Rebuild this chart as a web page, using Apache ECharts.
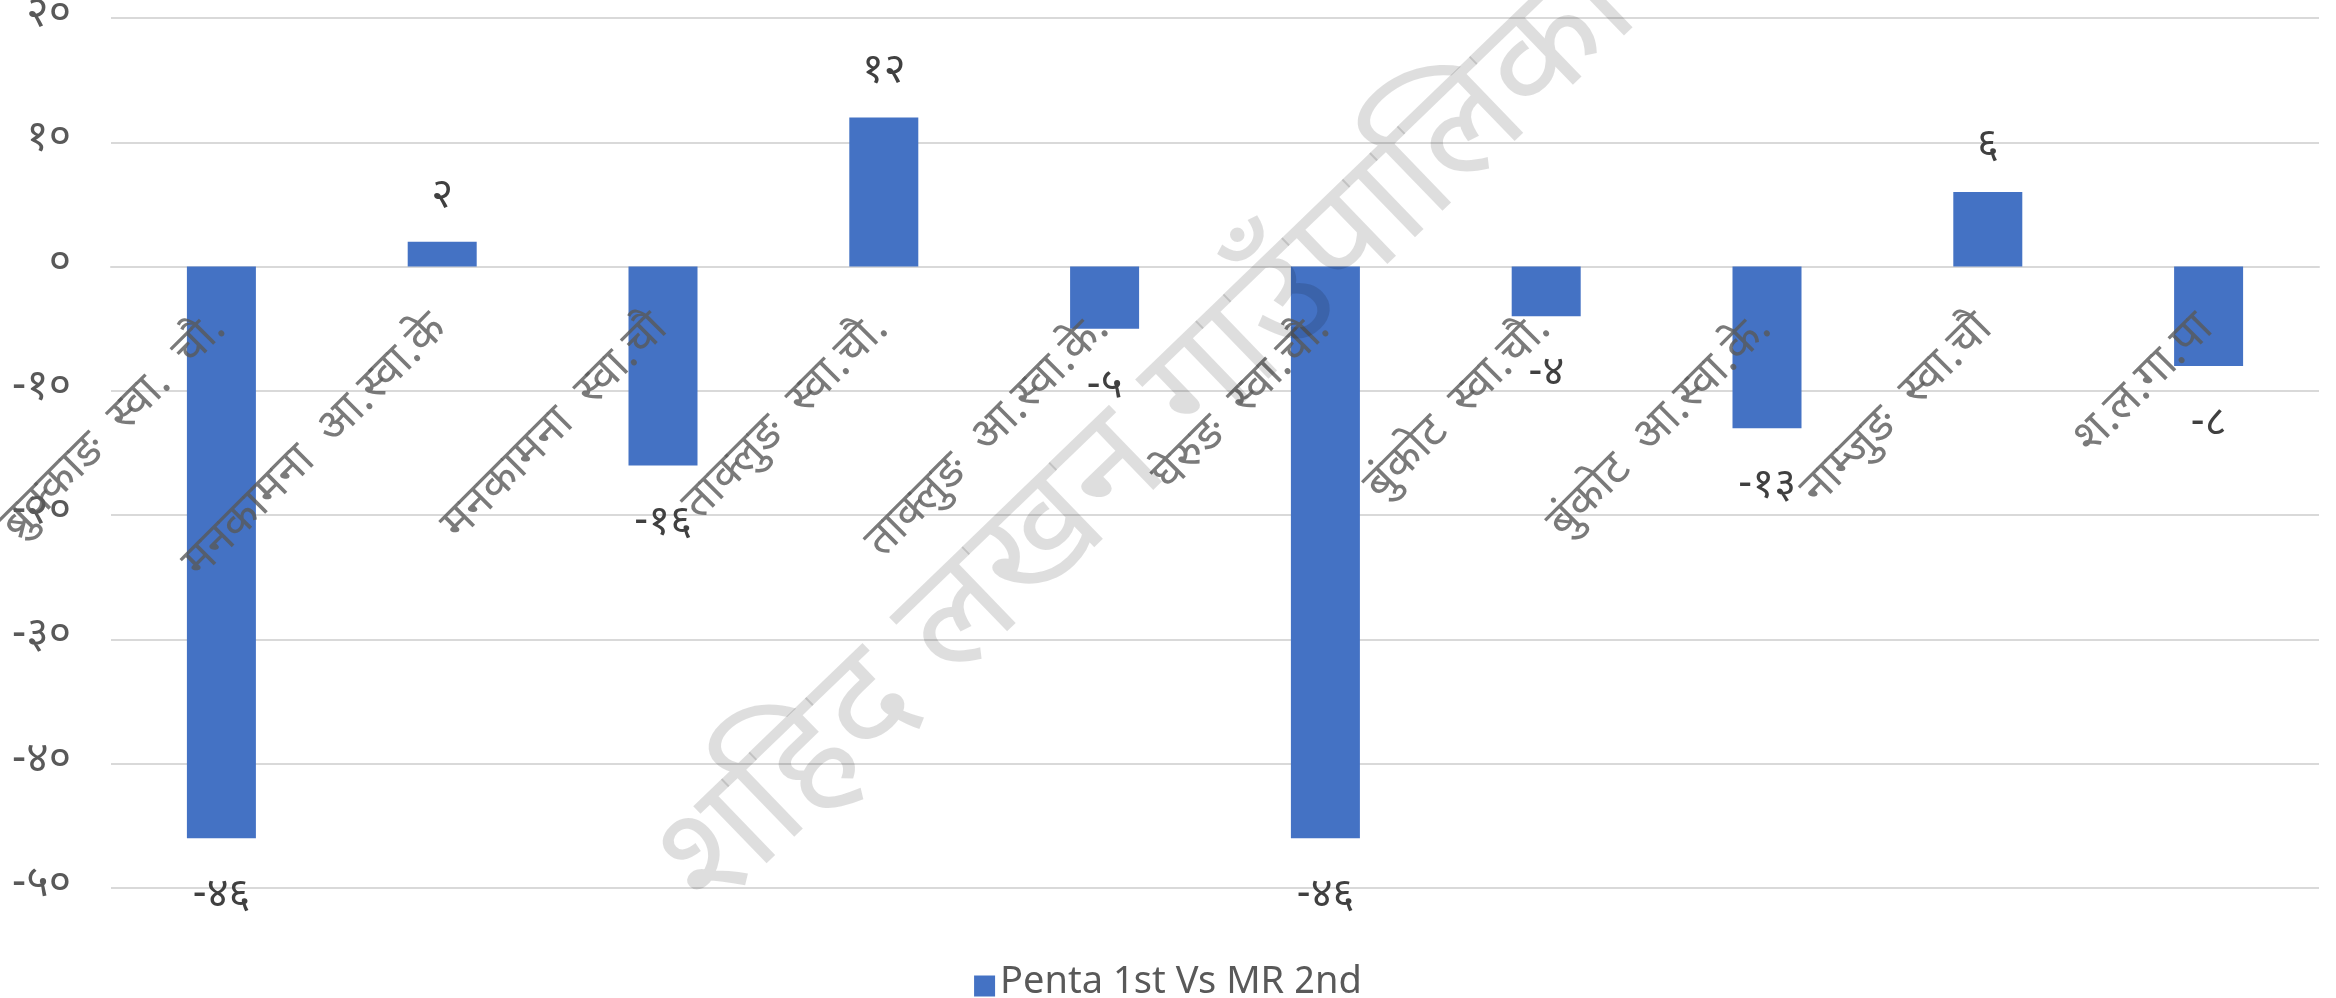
<!DOCTYPE html>
<html>
<head>
<meta charset="utf-8">
<script src="https://cdn.jsdelivr.net/npm/echarts@6/dist/echarts.min.js"></script>
<style>
  * { margin: 0; padding: 0; }
  html, body { width: 2336px; height: 998px; background: #fff; overflow: hidden; }
  #mychart { width: 2336px; height: 998px; }
</style>
</head>
<body>
<div id="mychart"></div>
<script>
const catName = ["ब्रुक्काङ  स्वा.  चौ.", "मनकामना  आ.स्वा.के", "मनकामना  स्वा.चौ", "ताक्लुङ  स्वा.चौ.", "ताक्लुङ  आ.स्वा.के.", "घेरुङ  स्वा.चौ.", "बुंकोट  स्वा.चौ.", "बुंकोट  आ.स्वा.के.", "नाम्जुङ  स्वा.चौ", "श.ल.गा.पा"];
const seriesName = "Penta 1st Vs MR 2nd";
const diffVal = [-46, 2, -16, 12, -5, -46, -4, -13, 6, -8];
const yMin = -50, yMax = 20, yStep = 10;
const watermark = "शहिद लखन गाउँपालिका";

const devDigits = "०१२३४५६७८९";
function toDev(v) {
    return String(v).replace(/[0-9]/g, d => devDigits[+d]);
}

const font = "'Noto Sans Devanagari', 'Noto Sans', sans-serif";

function initChart() {
    var chart = echarts.init(document.getElementById("mychart"));
    const option = {
        animation: false,
        grid: {
            left: 111,
            right: 17,
            top: 18,
            bottom: 110,
            containLabel: false,
            outerBoundsMode: 'none'
        },
        legend: {
            data: [seriesName],
            bottom: -12,
            left: 'center',
            itemWidth: 21,
            itemHeight: 21,
            icon: 'rect',
            itemGap: 10,
            textStyle: { color: '#595959', fontSize: 38, fontFamily: font }
        },
        xAxis: {
            type: 'category',
            data: catName,
            axisLine: { onZero: true, lineStyle: { color: '#d9d9d9', width: 2 } },
            axisTick: { show: false },
            axisLabel: { show: false }
        },
        yAxis: {
            type: 'value',
            min: yMin,
            max: yMax,
            interval: yStep,
            axisLine: { show: false },
            axisTick: { show: false },
            splitLine: { lineStyle: { color: '#d9d9d9', width: 2 } },
            axisLabel: {
                margin: 40,
                color: '#595959',
                fontSize: 43,
                fontFamily: font,
                formatter: v => toDev(v)
            }
        },
        series: [
            {
                name: seriesName,
                type: 'bar',
                barWidth: 69,
                itemStyle: { color: '#4472C4' },
                label: {
                    show: true,
                    color: '#404040',
                    fontSize: 42,
                    fontFamily: font,
                    formatter: p => toDev(p.value)
                },
                data: diffVal.map(v => ({
                    value: v,
                    label: v >= 0 ? { position: 'top', distance: 22 } : { position: 'bottom', distance: 40 }
                }))
            },
            {
                // category names sit on the zero line, like the reference
                name: 'cat-labels',
                type: 'scatter',
                symbolSize: 0,
                silent: true,
                z: 5,
                label: {
                    show: true,
                    position: 'bottom',
                    distance: 58,
                    rotate: 45,
                    align: 'right',
                    verticalAlign: 'middle',
                    color: '#595959',
                    fontSize: 46,
                    fontFamily: font,
                    formatter: p => catName[p.dataIndex]
                },
                data: catName.map(() => 0)
            }
        ],
        graphic: [
            {
                type: 'text',
                x: 1158,
                y: 447,
                rotation: 44 * Math.PI / 180,
                style: {
                    text: watermark,
                    fontSize: 148,
                    fontFamily: font,
                    fill: 'rgba(0,0,0,0.13)',
                    align: 'center',
                    verticalAlign: 'middle'
                },
                z: 100,
                silent: true
            }
        ]
    };
    chart.setOption(option);
    window.addEventListener("resize", function () {
        chart.resize();
    });
}

initChart();
</script>
</body>
</html>
